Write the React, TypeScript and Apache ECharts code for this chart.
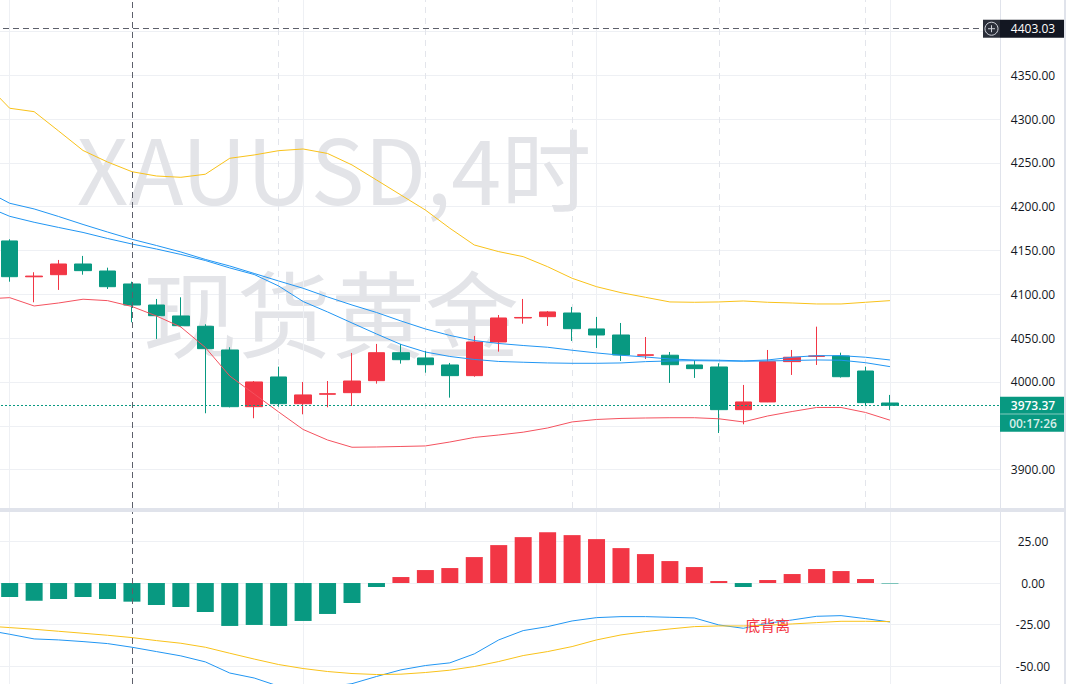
import React, { useEffect, useRef } from 'react';
import * as echarts from 'echarts';

// ---- candle data (XAUUSD 4h), one entry per bar ----
const opens = [4160.9, 4120.0, 4122.4, 4134.6, 4126.6, 4111.8, 4087.8, 4075.3, 4063.5, 4036.5, 3971.8, 4005.7, 3975.2, 3986.0, 3987.8, 4001.5, 4033.4, 4027.4, 4019.4, 4007.2, 4045.6, 4073.0, 4074.5, 4078.7, 4060.5, 4053.6, 4030.4, 4030.5, 4019.4, 4017.1, 3968.4, 3977.2, 4023.2, 4029.2, 4029.7, 4012.5, 3976.0];
const closes = [4120.1, 4120.8, 4134.6, 4127.0, 4108.7, 4087.8, 4075.6, 4064.2, 4038.0, 3971.8, 4000.0, 3975.2, 3985.2, 3986.6, 4001.1, 4033.4, 4025.4, 4019.7, 4007.2, 4045.6, 4073.0, 4073.6, 4079.9, 4060.8, 4053.6, 4030.8, 4031.0, 4019.7, 4015.2, 3968.4, 3977.2, 4023.2, 4028.2, 4029.7, 4006.0, 3976.4, 3973.37];
const lows = [4114.4, 4090.9, 4105.0, 4122.4, 4106.1, 4068.1, 4049.1, 4063.0, 3964.3, 3971.0, 3958.6, 3971.8, 3963.1, 3971.1, 3972.6, 3998.1, 4020.9, 4010.6, 3982.1, 4006.0, 4034.6, 4066.5, 4063.9, 4046.8, 4038.8, 4024.0, 4026.2, 3998.9, 4004.6, 3941.8, 3951.7, 3977.0, 4008.0, 4019.4, 4005.0, 3972.6, 3968.1];
const highs = [4162.8, 4125.2, 4139.2, 4143.8, 4130.4, 4114.4, 4094.7, 4096.6, 4065.8, 4039.6, 4001.1, 4017.5, 4000.0, 4001.1, 4033.1, 4043.4, 4043.4, 4035.4, 4021.7, 4052.5, 4076.4, 4094.7, 4081.0, 4085.6, 4074.2, 4067.3, 4051.3, 4034.2, 4025.1, 4021.3, 3996.6, 4036.5, 4036.5, 4063.1, 4033.4, 4017.5, 3985.2];

// ---- overlay lines (first value = bar just left of the visible area) ----
const bbUpper = [4341.1, 4312.3, 4308.4, 4286.4, 4264.1, 4251.0, 4239.9, 4235.0, 4233.5, 4237.0, 4255.2, 4259.0, 4263.9, 4265.8, 4260.7, 4247.6, 4230.5, 4213.3, 4196.2, 4175.4, 4156.3, 4148.7, 4143.0, 4131.5, 4118.3, 4108.7, 4101.9, 4096.6, 4091.3, 4090.9, 4091.3, 4092.4, 4090.9, 4090.1, 4089.0, 4089.0, 4090.9, 4092.8];
const bbLower = [4094.7, 4096.2, 4086.7, 4090.1, 4094.4, 4092.8, 4086.1, 4075.3, 4062.7, 4039.4, 4006.8, 3986.3, 3965.8, 3945.8, 3933.8, 3925.5, 3925.8, 3926.4, 3927.0, 3931.5, 3936.7, 3939.5, 3942.7, 3947.5, 3954.4, 3957.2, 3958.4, 3958.9, 3959.2, 3959.2, 3958.0, 3954.4, 3961.2, 3966.3, 3970.9, 3970.9, 3965.2, 3956.4];
const bbMiddle = [4218.6, 4203.9, 4197.4, 4188.8, 4179.7, 4171.1, 4162.8, 4155.7, 4148.3, 4139.8, 4132.3, 4123.8, 4115.2, 4106.9, 4097.0, 4087.8, 4079.3, 4069.6, 4060.5, 4053.1, 4047.3, 4043.9, 4041.6, 4039.6, 4036.2, 4033.1, 4030.5, 4028.5, 4026.2, 4025.1, 4024.8, 4024.0, 4025.1, 4028.2, 4030.0, 4030.0, 4028.2, 4025.1];
const maLine = [4200.8, 4189.0, 4182.2, 4176.3, 4170.6, 4163.7, 4157.4, 4151.7, 4145.5, 4138.6, 4130.1, 4122.6, 4109.5, 4091.8, 4079.9, 4067.3, 4054.8, 4042.8, 4034.2, 4029.1, 4025.7, 4023.4, 4022.5, 4021.7, 4021.3, 4021.3, 4021.7, 4023.2, 4024.0, 4024.3, 4024.0, 4023.6, 4024.0, 4024.5, 4025.1, 4024.8, 4022.0, 4017.5];

// ---- MACD ----
const macdHist = [-8.4, -10.6, -9.6, -8.4, -9.6, -11.2, -13.2, -14.4, -17.4, -25.8, -25.2, -25.8, -22.8, -18.6, -12.0, -2.4, 3.6, 7.8, 9.0, 15.6, 22.8, 27.6, 30.6, 28.8, 26.4, 21.0, 17.4, 13.2, 9.6, 1.2, -2.4, 1.8, 5.4, 8.4, 7.2, 2.4, -0.3];
const macdDif = [-28.2, -30.8, -33.6, -34.2, -35.2, -36.4, -38.6, -41.2, -43.8, -47.4, -54.1, -57.1, -62.0, -63.0, -62.5, -60.5, -56.2, -52.2, -49.6, -48.0, -42.6, -34.2, -28.6, -26.2, -22.8, -20.8, -20.2, -20.2, -20.6, -21.0, -25.2, -27.2, -24.2, -22.2, -20.0, -19.6, -21.4, -23.4];
const macdDea = [-25.8, -26.8, -27.8, -29.0, -30.2, -31.4, -32.8, -34.6, -36.2, -38.6, -42.2, -45.7, -49.0, -51.4, -53.2, -54.4, -55.0, -54.8, -53.8, -52.4, -50.2, -47.2, -43.6, -41.2, -38.2, -34.2, -31.2, -29.2, -27.6, -26.2, -25.8, -25.8, -25.4, -24.6, -23.8, -23.0, -23.0, -23.2];

// ---- axes / annotations ----
const priceGridLevels = [3900, 3950, 4000, 4050, 4100, 4150, 4200, 4250, 4300, 4350, 4400];
const priceTickLabels = [3900, 4000, 4050, 4100, 4150, 4200, 4250, 4300, 4350];
const macdTicks = [-50, -25, 0, 25];
const crosshairPrice = 4403.03;
const crosshairBar = 5;
const lastPrice = 3973.37;
const countdown = '00:17:26';
const solidGridBars = [0, 12, 24, 36];
const dashedGridBars = [11, 17, 23, 29, 35];
const divergenceBar = 31;
const divergenceLabel = '底背离';
const watermarkLine1 = 'XAUUSD,4时';
const watermarkLine2 = '现货黄金';

const candleLabels = opens.map((_, i) => `K${i + 1}`);
const categories = ['', ...candleLabels, '', '', '', ''];

const RED = '#f23645';
const GREEN = '#089981';
const BLUE = '#2196f3';
const YELLOW = '#f9c21a';
const GRID = '#eef0f4';
const AXIS = '#e0e3eb';
const HAIR = '#5d606b';
const FONT = '"Open Sans", "Noto Sans", sans-serif';

// the chart canvas starts this many px left of the page so the first (partial) bar is cut
const SHIFT = 27;
const PAGE_W = 1066;
const PAGE_H = 684;

export default function App() {
  const ref = useRef<HTMLDivElement>(null);

  useEffect(() => {
    const el = ref.current;
    if (!el) return;
    const chart = echarts.init(el, null, { renderer: 'svg' });

    const candleData = opens.map((o, i) => [i + 1, o, closes[i], lows[i], highs[i]]);
    const histData: any[] = ['-', ...macdHist];

    const gridRight = 66;

    const lineSeries = (name: string, data: number[], color: string, xi: number, extra: any = {}) => ({
      name,
      type: 'line',
      xAxisIndex: xi,
      yAxisIndex: xi,
      data,
      symbol: 'none',
      showSymbol: false,
      lineStyle: { color, width: 1 },
      itemStyle: { color },
      z: 3,
      silent: true,
      ...extra,
    });

    const axisLabelBase = {
      formatter: (v: number) => v.toFixed(2),
      margin: 33,
      align: 'center',
      color: '#131722',
      fontSize: 12,
      fontFamily: FONT,
    };

    const option: any = {
      animation: false,
      backgroundColor: '#ffffff',
      grid: [
        { left: 0, right: gridRight, top: 0, bottom: 176 },
        { left: 0, right: gridRight, top: 512, bottom: 0 },
      ],
      xAxis: [0, 1].map((gi) => ({
        type: 'category',
        gridIndex: gi,
        data: categories,
        boundaryGap: true,
        axisLine: { show: false },
        axisTick: { show: false },
        axisLabel: { show: false },
        splitLine: { show: false },
      })),
      yAxis: [
        {
          type: 'value',
          gridIndex: 0,
          position: 'right',
          min: 3856.2,
          max: 4435.8,
          axisLine: { show: true, lineStyle: { color: AXIS } },
          axisTick: { show: false, customValues: priceGridLevels },
          axisLabel: { ...axisLabelBase, customValues: priceTickLabels },
          splitLine: { show: true, lineStyle: { color: GRID, width: 1 } },
        },
        {
          type: 'value',
          gridIndex: 1,
          position: 'right',
          min: -60.7,
          max: 42.7,
          axisLine: { show: true, lineStyle: { color: AXIS } },
          axisTick: { show: false, customValues: macdTicks },
          axisLabel: { ...axisLabelBase, customValues: macdTicks },
          splitLine: { show: true, lineStyle: { color: GRID, width: 1 } },
        },
      ],
      series: [
        {
          type: 'line',
          xAxisIndex: 0,
          yAxisIndex: 0,
          data: [],
          z: 1,
          silent: true,
          markLine: {
            silent: true,
            z: 1,
            symbol: ['none', 'none'],
            label: { show: false },
            data: [
              ...solidGridBars.map((b) => ({ xAxis: b + 1, lineStyle: { color: GRID, width: 1, type: 'solid' } })),
              ...dashedGridBars.map((b) => ({ xAxis: b + 1, lineStyle: { color: '#e3e5eb', width: 1, type: [6, 5] } })),
            ],
          },
        },
        {
          type: 'line',
          xAxisIndex: 1,
          yAxisIndex: 1,
          data: [],
          z: 1,
          silent: true,
          markLine: {
            silent: true,
            z: 1,
            symbol: ['none', 'none'],
            label: { show: false },
            data: solidGridBars.map((b) => ({ xAxis: b + 1, lineStyle: { color: GRID, width: 1, type: 'solid' } })),
          },
        },
        {
          name: 'XAUUSD',
          type: 'candlestick',
          xAxisIndex: 0,
          yAxisIndex: 0,
          data: candleData,
          encode: { x: 0, y: [1, 2, 3, 4] },
          barWidth: 17,
          silent: true,
          itemStyle: {
            color: RED,
            color0: GREEN,
            borderColor: RED,
            borderColor0: GREEN,
            borderWidth: 1,
          },
          markLine: {
            silent: true,
            z: 10,
            symbol: ['none', 'none'],
            label: { show: false },
            data: [
              { yAxis: lastPrice, lineStyle: { color: GREEN, width: 1, type: [2, 2] } },
              { yAxis: crosshairPrice, lineStyle: { color: HAIR, width: 1, type: [6, 4] } },
              { xAxis: crosshairBar + 1, lineStyle: { color: HAIR, width: 1, type: [6, 4] } },
            ],
          },
        },
        lineSeries('BB Upper', bbUpper, YELLOW, 0),
        lineSeries('BB Lower', bbLower, '#f4525f', 0),
        lineSeries('BB Basis', bbMiddle, BLUE, 0),
        lineSeries('MA', maLine, BLUE, 0),
        {
          name: 'MACD',
          type: 'bar',
          xAxisIndex: 1,
          yAxisIndex: 1,
          data: histData,
          barWidth: 17,
          silent: true,
          itemStyle: {
            color: (p: any) => (Number(p.value) >= 0 ? RED : GREEN),
          },
          markLine: {
            silent: true,
            z: 10,
            symbol: ['none', 'none'],
            label: { show: false },
            data: [{ xAxis: crosshairBar + 1, lineStyle: { color: HAIR, width: 1, type: [6, 4] } }],
          },
        },
        lineSeries('DIF', macdDif, BLUE, 1, {
          markPoint: {
            silent: true,
            symbol: 'rect',
            symbolSize: 1,
            itemStyle: { color: 'rgba(0,0,0,0)' },
            label: {
              show: true,
              position: 'inside',
              formatter: divergenceLabel,
              color: RED,
              fontSize: 15,
              fontFamily: '"Noto Sans CJK SC", sans-serif',
            },
            data: [{ coord: [divergenceBar + 1, -25] }],
          },
        }),
        lineSeries('DEA', macdDea, YELLOW, 1),
      ],
    };

    chart.setOption(option);

    const yH = chart.convertToPixel({ yAxisIndex: 0 }, crosshairPrice) as number;
    const yL = chart.convertToPixel({ yAxisIndex: 0 }, lastPrice) as number;
    const axisX = PAGE_W + SHIFT - gridRight; // in chart coords
    const boxW = 64;
    const labelCx = axisX + 33;
    const px = (x: number) => x + SHIFT; // page x -> chart x

    const graphic: any[] = [
      {
        type: 'text', x: px(334), y: 166, z: 0, silent: true,
        style: { text: watermarkLine1, fill: '#e3e4e8', fontSize: 90, fontFamily: '"Noto Sans CJK SC"', align: 'center', verticalAlign: 'middle' },
      },
      {
        type: 'text', x: px(331), y: 310, z: 0, silent: true,
        style: { text: watermarkLine2, fill: '#e3e4e8', fontSize: 94, fontFamily: '"Noto Sans CJK SC"', align: 'center', verticalAlign: 'middle' },
      },
      { type: 'rect', z: 50, silent: true, shape: { x: 0, y: 508, width: PAGE_W + SHIFT, height: 4 }, style: { fill: AXIS } },
      { type: 'rect', z: 50, silent: true, shape: { x: px(1064), y: 0, width: 2, height: PAGE_H }, style: { fill: AXIS } },
      // crosshair price label
      { type: 'rect', z: 60, silent: true, shape: { x: px(983), y: yH - 9, width: axisX - px(983), height: 18 }, style: { fill: '#2a2e39' } },
      { type: 'rect', z: 60, silent: true, shape: { x: axisX, y: yH - 9, width: boxW, height: 18 }, style: { fill: '#131722' } },
      { type: 'circle', z: 61, silent: true, shape: { cx: px(991.5), cy: yH, r: 6.5 }, style: { fill: 'none', stroke: '#d1d4dc', lineWidth: 1 } },
      { type: 'line', z: 61, silent: true, shape: { x1: px(988), y1: yH, x2: px(995), y2: yH }, style: { stroke: '#d1d4dc', lineWidth: 1 } },
      { type: 'line', z: 61, silent: true, shape: { x1: px(991.5), y1: yH - 3.5, x2: px(991.5), y2: yH + 3.5 }, style: { stroke: '#d1d4dc', lineWidth: 1 } },
      {
        type: 'text', z: 62, silent: true, x: labelCx, y: yH,
        style: { text: crosshairPrice.toFixed(2), fill: '#ffffff', fontSize: 12, fontFamily: FONT, align: 'center', verticalAlign: 'middle' },
      },
      // last price label
      { type: 'rect', z: 60, silent: true, shape: { x: axisX, y: yL - 8.5, width: boxW, height: 17 }, style: { fill: GREEN } },
      { type: 'rect', z: 60, silent: true, shape: { x: axisX, y: yL + 9, width: boxW, height: 17.5 }, style: { fill: GREEN } },
      {
        type: 'text', z: 62, silent: true, x: labelCx, y: yL,
        style: { text: lastPrice.toFixed(2), fill: '#ffffff', fontSize: 12, fontWeight: 600, fontFamily: FONT, align: 'center', verticalAlign: 'middle' },
      },
      {
        type: 'text', z: 62, silent: true, x: labelCx, y: yL + 17.75,
        style: { text: countdown, fill: '#d6eee8', fontSize: 12, fontWeight: 600, fontFamily: FONT, align: 'center', verticalAlign: 'middle' },
      },
    ];

    chart.setOption({ graphic });

    return () => {
      chart.dispose();
    };
  }, []);

  return (
    <div
      ref={ref}
      style={{ position: 'fixed', left: -SHIFT, top: 0, width: PAGE_W + SHIFT, height: PAGE_H, background: '#ffffff' }}
    />
  );
}
